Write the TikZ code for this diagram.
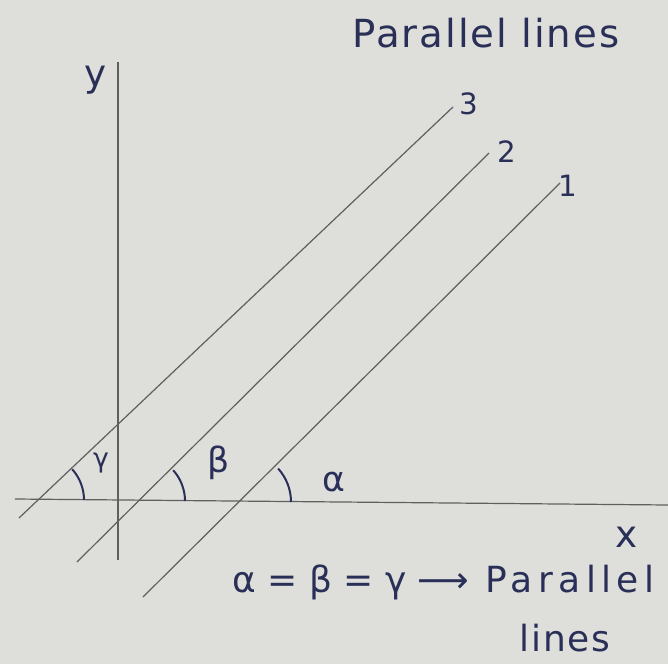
\documentclass[tikz,border=0pt]{standalone}
\usepackage{fontspec}
\setmainfont{DejaVu Sans}
\newfontfamily\wideink[LetterSpace=15]{DejaVu Sans}
\newfontfamily\midink[LetterSpace=5]{DejaVu Sans}
\definecolor{paper}{RGB}{222,222,218}
\definecolor{pencilc}{RGB}{95,95,95}
\definecolor{inkc}{RGB}{42,47,88}
\begin{document}
\begin{tikzpicture}[x=0.75pt,y=-0.75pt,
  pencil/.style={draw=pencilc, line width=0.9pt},
  ink/.style={text=inkc, inner sep=0pt},
  inkline/.style={draw=inkc, line width=1.5pt}]
\fill[paper] (0,0) rectangle (668,664);
\useasboundingbox (0,0) rectangle (668,664);
% axes
\coordinate (ytop) at (118,62);
\coordinate (ybot) at (118,560);
\coordinate (xl) at (15,499);
\coordinate (xr) at (668,505);
\draw[pencil] (ytop) -- (ybot);
\draw[pencil] (xl) -- (xr);
\node[ink, font=\fontsize{28}{30}\selectfont] (ylab) at (96,80) {y};
\node[ink, font=\fontsize{28}{30}\selectfont] (xlab) at (627,537) {x};
% parallel lines
\coordinate (l3a) at (19,518);
\coordinate (l3b) at (453,107);
\coordinate (l2a) at (77,562);
\coordinate (l2b) at (489,153);
\coordinate (l1a) at (143,597);
\coordinate (l1b) at (560,183);
\draw[pencil] (l3a) -- (l3b);
\draw[pencil] (l2a) -- (l2b);
\draw[pencil] (l1a) -- (l1b);
\node[ink, font=\fontsize{22}{24}\selectfont] (n3) at (469,104) {3};
\node[ink, font=\fontsize{22}{24}\selectfont] (n2) at (507,152) {2};
\node[ink, font=\fontsize{22}{24}\selectfont] (n1) at (568,186) {1};
% angle arcs
\coordinate (c3) at (38,500);
\coordinate (c2) at (139,501);
\coordinate (c1) at (241,502);
\draw[inkline] ([shift={(0:46)}]c3) arc[start angle=0,end angle=-42,radius=46];
\draw[inkline] ([shift={(0:46)}]c2) arc[start angle=0,end angle=-42,radius=46];
\draw[inkline] ([shift={(0:50)}]c1) arc[start angle=0,end angle=-42,radius=50];
\node[ink, font=\fontsize{20}{22}\selectfont] (gam) at (101,463) {γ};
\node[ink, font=\fontsize{26}{28}\selectfont] (bet) at (219,463) {β};
\node[ink, font=\fontsize{26}{28}\selectfont] (alp) at (334,482) {α};
% texts
\node[ink, font=\fontsize{29}{32}\midink] (title) at (486,33) {Parallel lines};
\node[ink, font=\fontsize{27}{30}\selectfont, anchor=west] (eq) at (232,582) {α = β = γ ⟶\kern 12pt{\wideink Parallel}};
\node[ink, font=\fontsize{27}{30}\midink] (eq2) at (565,638) {lines};
\end{tikzpicture}
\end{document}
